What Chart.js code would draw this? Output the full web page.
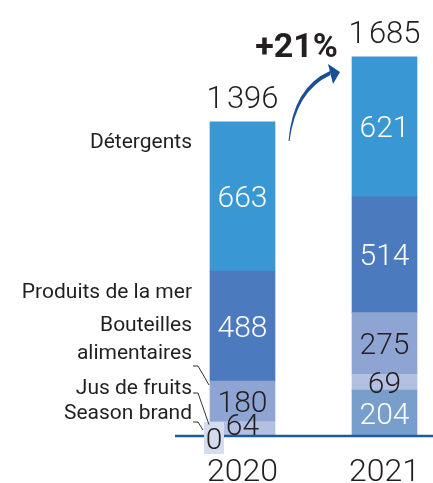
<!DOCTYPE html>
<html><head><meta charset="utf-8">
<script src="https://cdn.jsdelivr.net/npm/chart.js@4/dist/chart.umd.min.js"></script>
<style>html,body{margin:0;padding:0;background:#fff;}canvas{display:block;}</style>
</head><body>
<canvas id="c" width="433" height="483"></canvas>
<script>
// ---- data ----
const years = ['2020', '2021'];
const seriesNames = ['Season brand', 'Jus de fruits', 'Bouteilles alimentaires', 'Produits de la mer', 'Détergents'];
const seasonBrand = [0, 204];
const jusDeFruits = [64, 69];
const bouteilles = [180, 275];
const produitsMer = [488, 514];
const detergents = [663, 621];
const totals = [1396, 1685];

// ---- styles ----
const FONT = 'Roboto, "Liberation Sans", sans-serif';
const DARK = '#231f20';
const seriesValues = [seasonBrand, jusDeFruits, bouteilles, produitsMer, detergents];
const seriesColors = [['#d4dcee', '#789fcc'], '#b4c0e2', '#8ea5d4', '#4b7abe', '#3998d3'];
const labelColors = [[DARK, '#ffffff'], DARK, DARK, '#ffffff', '#ffffff'];
const nameLines = [['Season brand'], ['Jus de fruits'], ['Bouteilles', 'alimentaires'], ['Produits de la mer'], ['Détergents']];
const nameBaselines = [[419], [394], [331, 359], [298], [148]];

function fmt(v) { return String(v).replace(/\B(?=(\d{3})+(?!\d))/g, '\u200A'); }

const overlay = {
  id: 'overlay',
  afterDatasetsDraw(chart) {
    const ctx = chart.ctx;
    const yS = chart.scales.y;
    const base = yS.getPixelForValue(0);
    ctx.save();
    // baseline
    ctx.strokeStyle = '#1d5ba1';
    ctx.lineWidth = 2.4;
    ctx.beginPath(); ctx.moveTo(175, base); ctx.lineTo(433, base); ctx.stroke();

    const numSize = 30, digitH = numSize * 0.711;
    const segs = {};
    chart.data.datasets.forEach((ds, di) => {
      const meta = chart.getDatasetMeta(di);
      meta.data.forEach((bar, i) => {
        const v = ds.data[i];
        const col = Array.isArray(labelColors[di]) ? labelColors[di][i] : labelColors[di];
        ctx.font = '300 ' + numSize + 'px ' + FONT;
        ctx.textAlign = 'center';
        ctx.textBaseline = 'alphabetic';
        if (v === 0) {
          const bx = bar.x - 38.5, by = base - 14;
          ctx.fillStyle = Array.isArray(seriesColors[di]) ? seriesColors[di][i] : seriesColors[di];
          ctx.fillRect(bx, by, 20, 32);
          ctx.fillStyle = col;
          ctx.fillText(fmt(v), bx + 10, by + 16 + digitH / 2);
          segs[di + '_' + i] = {top: by, bx: bx};
          return;
        }
        const top = Math.min(bar.y, bar.base), bottom = Math.max(bar.y, bar.base);
        let cy = (top + bottom) / 2;
        cy = Math.min(cy, base - 12);
        ctx.fillStyle = col;
        ctx.fillText(fmt(v), bar.x, cy + digitH / 2);
        segs[di + '_' + i] = {top: top, bx: bar.x - 32.5};
      });
    });

    // totals + years
    const meta0 = chart.getDatasetMeta(0);
    ctx.fillStyle = DARK;
    ctx.textAlign = 'center';
    years.forEach((yr, i) => {
      const x = meta0.data[i].x;
      const topPix = yS.getPixelForValue(seriesValues.reduce((s, a) => s + a[i], 0));
      ctx.font = '300 31px ' + FONT;
      ctx.fillText(fmt(totals[i]), x, topPix - 14);
      ctx.font = '300 32px ' + FONT;
      ctx.fillText(yr, x, 481);
    });

    // growth
    const growth = Math.round((totals[1] / totals[0] - 1) * 100);
    ctx.font = 'bold 34px ' + FONT;
    ctx.textAlign = 'right';
    ctx.fillText('+' + growth + '%', 338, 57);

    // arrow (tapered stroke)
    ctx.fillStyle = '#1a4f95';
    ctx.beginPath();
    ctx.moveTo(288.5, 141);
    ctx.quadraticCurveTo(293, 87, 330, 71);
    ctx.lineTo(330.5, 75);
    ctx.quadraticCurveTo(296, 91, 289.5, 141);
    ctx.closePath(); ctx.fill();
    ctx.beginPath();
    ctx.moveTo(328, 64); ctx.lineTo(340, 72); ctx.lineTo(333, 84); ctx.closePath(); ctx.fill();

    // series names
    ctx.fillStyle = DARK;
    ctx.textAlign = 'right';
    ctx.font = '21px ' + FONT;
    nameLines.forEach((lines, si) => {
      lines.forEach((ln, li) => ctx.fillText(ln, 192, nameBaselines[si][li]));
    });

    // leader lines (to 2020 segments)
    ctx.strokeStyle = '#333';
    ctx.lineWidth = 1;
    const leaders = [
      {si: 2, y: 366, off: 4},
      {si: 1, y: 393, off: 3},
      {si: 0, y: 422, off: 8}
    ];
    leaders.forEach(l => {
      const s = segs[l.si + '_0'];
      if (!s) return;
      ctx.beginPath();
      ctx.moveTo(193, l.y); ctx.lineTo(198, l.y);
      ctx.lineTo(s.bx - 1, s.top + l.off);
      ctx.stroke();
    });
    ctx.restore();
  }
};

new Chart(document.getElementById('c'), {
  type: 'bar',
  data: {
    labels: years,
    datasets: seriesValues.map((vals, si) => ({
      label: seriesNames[si],
      data: vals,
      backgroundColor: seriesColors[si],
      borderWidth: 0,
      barThickness: 65,
      clip: false
    }))
  },
  options: {
    responsive: false,
    animation: false,
    layout: {padding: {left: 242.5, right: 48.5, top: 8, bottom: 47}},
    plugins: {legend: {display: false}, tooltip: {enabled: false}},
    scales: {
      x: {stacked: true, display: false, offset: false},
      y: {stacked: true, display: false, min: 0, max: 1900}
    }
  },
  plugins: [overlay]
});
</script>
</body></html>
